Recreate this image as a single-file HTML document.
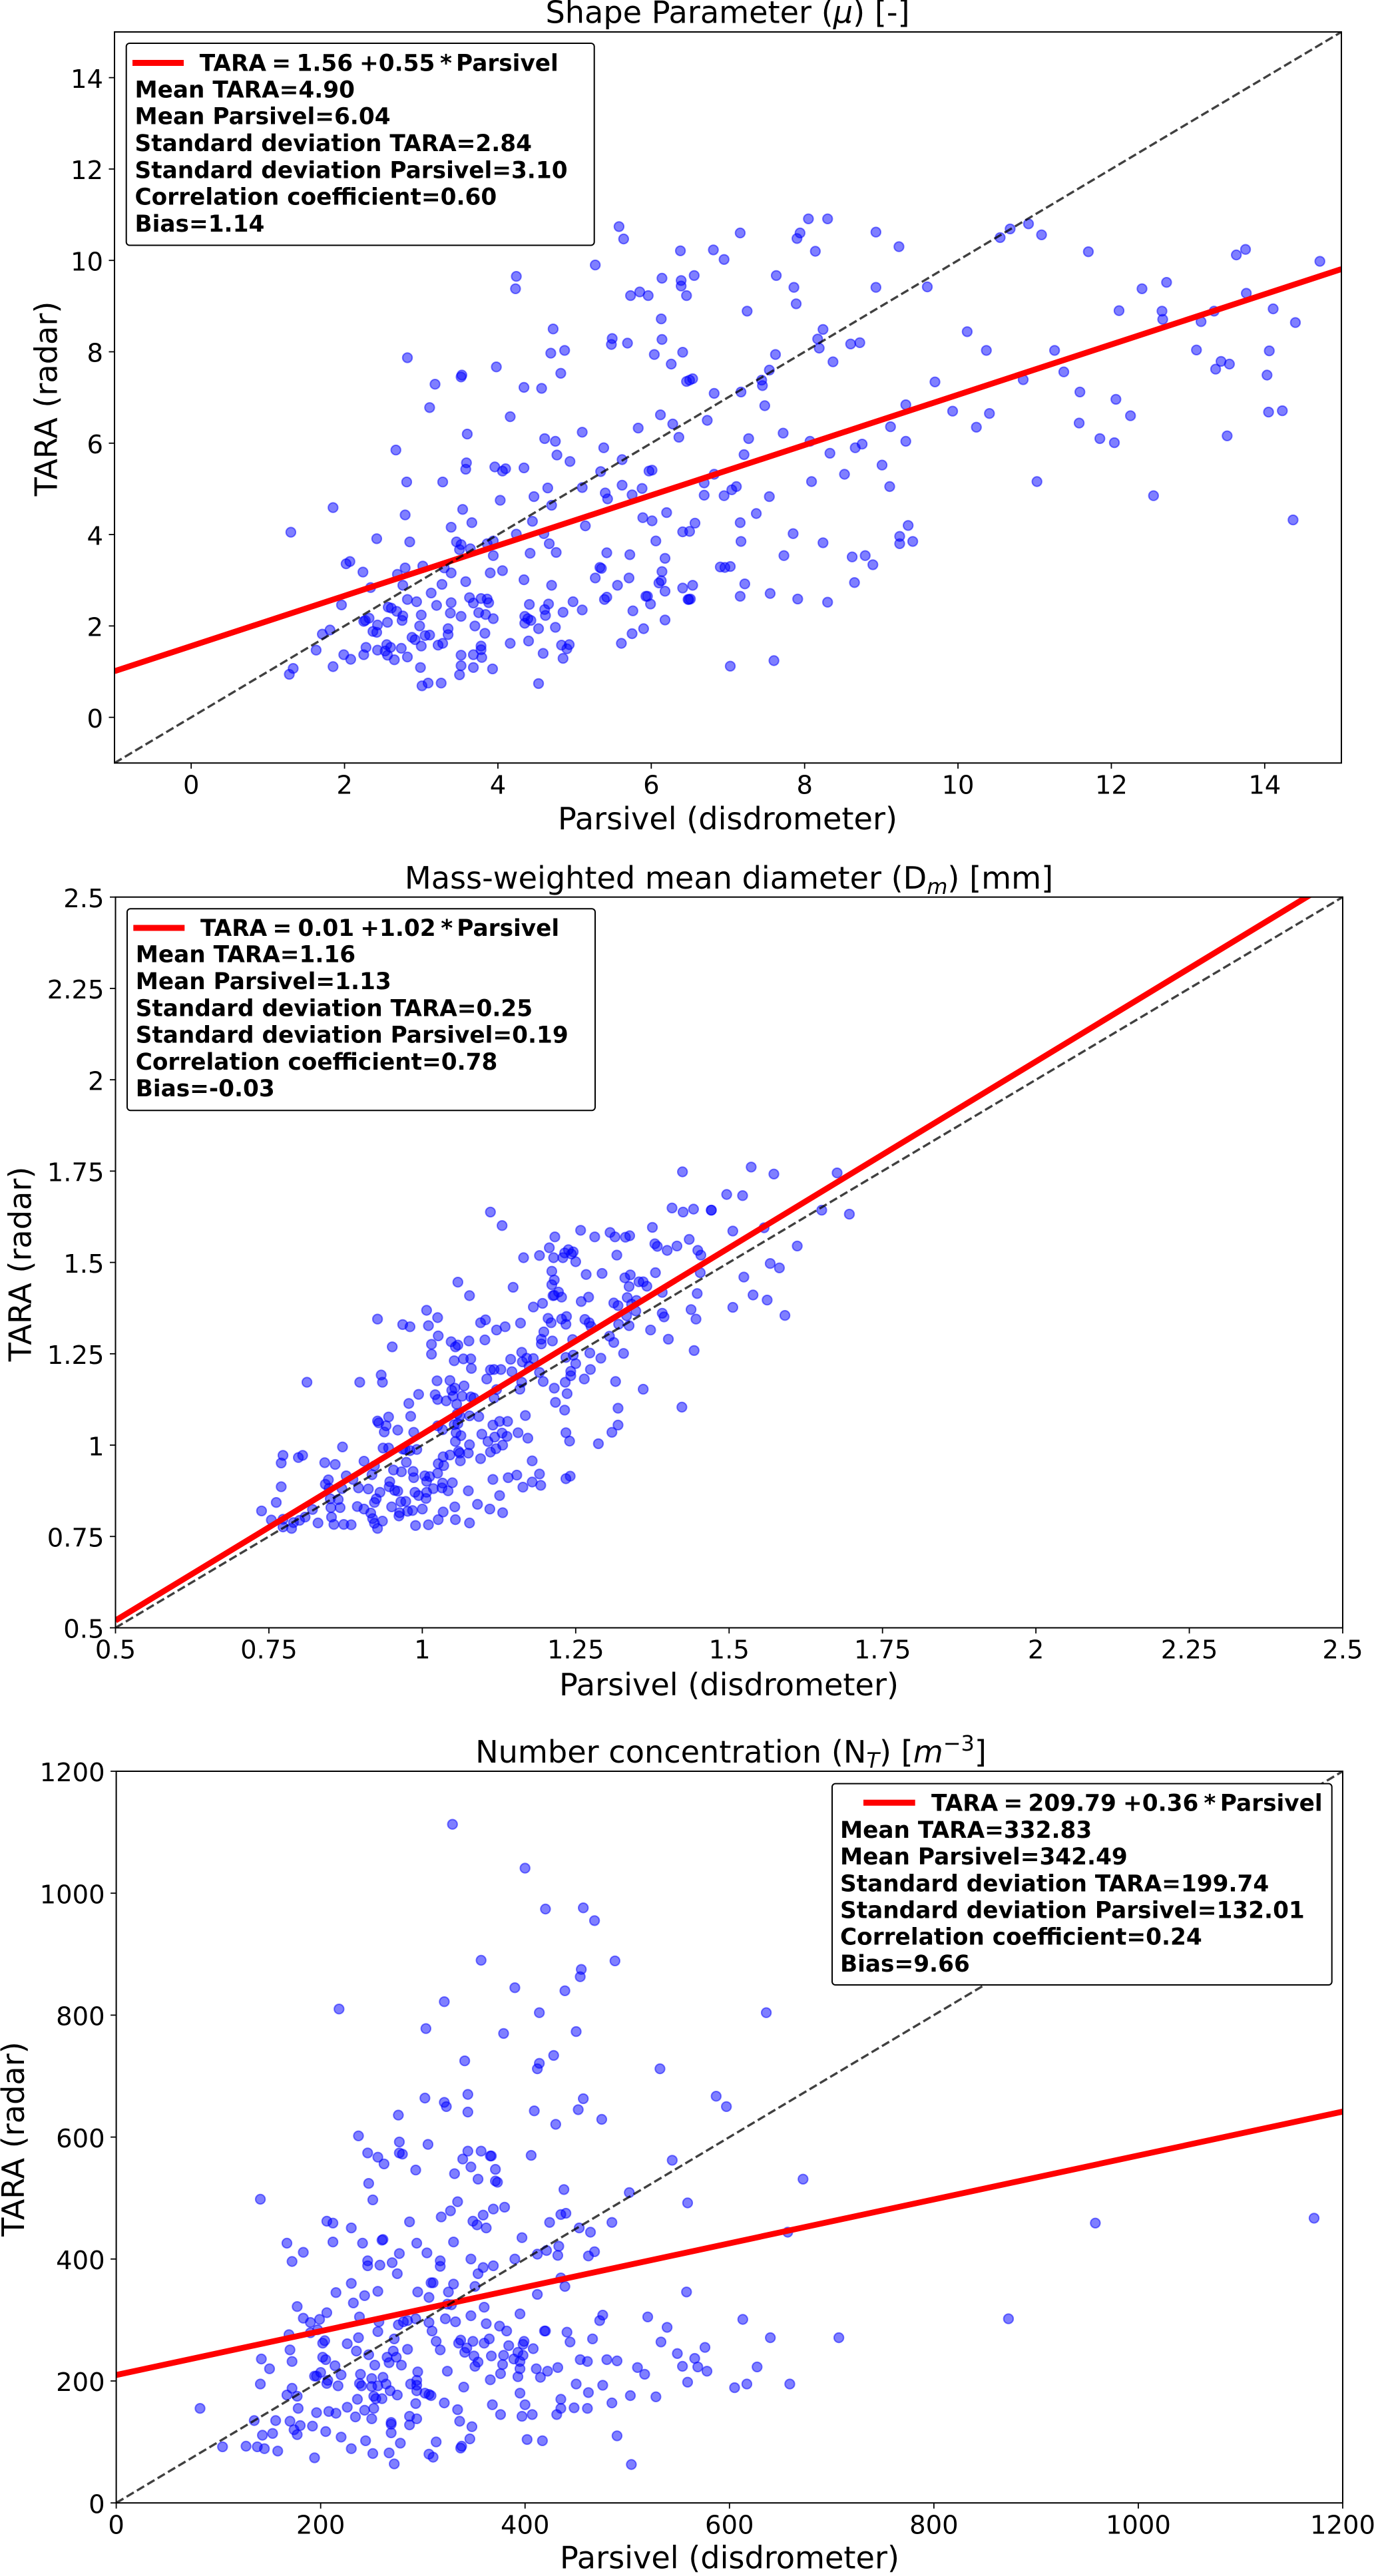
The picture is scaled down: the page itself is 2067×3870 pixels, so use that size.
<!DOCTYPE html>
<html lang="en">
<head>
<meta charset="utf-8">
<title>TARA radar vs Parsivel disdrometer scatter plots</title>
<style>
html,body{margin:0;padding:0;background:#fff;}
svg{display:block;font-family:"DejaVu Sans","Liberation Sans",sans-serif;}
.ttl{font-size:46.2px;text-anchor:middle;fill:#000;}
.lab{font-size:46.2px;text-anchor:middle;fill:#000;}
.leg{font-size:34.3px;font-weight:bold;fill:#000;}
.box{fill:#fff;stroke:#000;stroke-width:2;}
.tick{font-size:38.5px;fill:#000;}
</style>
</head>
<body>
<svg id="figure" xmlns="http://www.w3.org/2000/svg" width="2067" height="3870" viewBox="0 0 2067 3870">
<defs>
<clipPath id="clip-0"><rect x="172" y="48" width="1843" height="1098.3"/></clipPath>
<clipPath id="clip-1"><rect x="173.5" y="1347.7" width="1843.5" height="1097.8"/></clipPath>
<clipPath id="clip-2"><rect x="174.6" y="2661" width="1842.4" height="1099.2"/></clipPath>
</defs>
<rect width="2067" height="3870" fill="#fff"/>
<g id="plot-0"></g>
<g id="plot-1"></g>
<g id="plot-2"></g>

<text class="ttl" x="1093" y="34.5">Shape Parameter (<tspan font-style="italic">μ</tspan>) [-]</text>
<text class="lab" x="1093" y="1246">Parsivel (disdrometer)</text>
<text class="lab" transform="translate(85.6 599) rotate(-90)">TARA (radar)</text>
<g>
<rect class="box" x="189.7" y="65" width="703" height="303.5" rx="5"/>
<line x1="199" x2="276" y1="94.5" y2="94.5" stroke="#f00" stroke-width="9"/>
<text class="leg" y="106.4"><tspan x="299.7">TARA</tspan><tspan x="408.2">=</tspan><tspan x="445.5">1.56</tspan><tspan x="540">+0.55</tspan><tspan x="661">*</tspan><tspan x="685">Parsivel</tspan></text>
<text class="leg" x="202.5" y="146.4">Mean TARA=4.90</text>
<text class="leg" x="202.5" y="186.7">Mean Parsivel=6.04</text>
<text class="leg" x="202.5" y="227">Standard deviation TARA=2.84</text>
<text class="leg" x="202.5" y="267.3">Standard deviation Parsivel=3.10</text>
<text class="leg" x="202.5" y="307.6">Correlation coefficient=0.60</text>
<text class="leg" x="202.5" y="347.9">Bias=1.14</text>
</g>

<text class="ttl" x="1095" y="1335">Mass-weighted mean diameter (D<tspan dy="8" font-size="32" font-style="italic">m</tspan><tspan dy="-8">) [mm]</tspan></text>
<text class="lab" x="1095" y="2547">Parsivel (disdrometer)</text>
<text class="lab" transform="translate(46.7 1899) rotate(-90)">TARA (radar)</text>
<g>
<rect class="box" x="191" y="1365.3" width="703" height="303" rx="5"/>
<line x1="200.3" x2="277.3" y1="1394" y2="1394" stroke="#f00" stroke-width="9"/>
<text class="leg" y="1406"><tspan x="301">TARA</tspan><tspan x="409.5">=</tspan><tspan x="447.5">0.01</tspan><tspan x="541.3">+1.02</tspan><tspan x="662.3">*</tspan><tspan x="686.3">Parsivel</tspan></text>
<text class="leg" x="203.7" y="1445.7">Mean TARA=1.16</text>
<text class="leg" x="203.7" y="1486">Mean Parsivel=1.13</text>
<text class="leg" x="203.7" y="1526.3">Standard deviation TARA=0.25</text>
<text class="leg" x="203.7" y="1566.6">Standard deviation Parsivel=0.19</text>
<text class="leg" x="203.7" y="1606.9">Correlation coefficient=0.78</text>
<text class="leg" x="203.7" y="1647.2">Bias=-0.03</text>
</g>

<text class="ttl" x="1098" y="2647.8">Number concentration (N<tspan dy="8" font-size="32" font-style="italic">T</tspan><tspan dy="-8">) [</tspan><tspan font-style="italic">m</tspan><tspan dy="-18" font-size="32">−3</tspan><tspan dy="18">]</tspan></text>
<text class="lab" x="1096" y="3858.6">Parsivel (disdrometer)</text>
<text class="lab" transform="translate(36 3213.6) rotate(-90)">TARA (radar)</text>
<g>
<rect class="box" x="1250" y="2679.6" width="750.7" height="302.4" rx="5"/>
<line x1="1297" x2="1374.7" y1="2708.2" y2="2708.2" stroke="#f00" stroke-width="9"/>
<text class="leg" y="2720.6"><tspan x="1399">TARA</tspan><tspan x="1507.5">=</tspan><tspan x="1544.5">209.79</tspan><tspan x="1687">+0.36</tspan><tspan x="1808.4">*</tspan><tspan x="1832.8">Parsivel</tspan></text>
<text class="leg" x="1262" y="2760.9">Mean TARA=332.83</text>
<text class="leg" x="1262" y="2801.1">Mean Parsivel=342.49</text>
<text class="leg" x="1262" y="2841.3">Standard deviation TARA=199.74</text>
<text class="leg" x="1262" y="2881.5">Standard deviation Parsivel=132.01</text>
<text class="leg" x="1262" y="2921.7">Correlation coefficient=0.24</text>
<text class="leg" x="1262" y="2961.9">Bias=9.66</text>
</g>
</svg>
<script>
const shapeTicks=[0,2,4,6,8,10,12,14];
const shapeYTicks=[0,2,4,6,8,10,12,14];
const shapeDomain=[-1,15];
const shapeFit=[1.56,0.55];
const shapePoints=[[3.11,6.78],[4.16,6.58],[3.6,6.2],[6.12,6.62],[6.28,6.42],[5.83,6.33],[5.1,6.24],[6.36,6.13],[4.61,6.1],[4.75,6.04],[5.38,5.9],[2.67,5.85],[4.77,5.74],[5.62,5.64],[4.94,5.6],[3.59,5.57],[3.58,5.43],[3.96,5.48],[4.06,5.39],[4.1,5.44],[4.34,5.46],[5.34,5.38],[5.97,5.39],[6.01,5.41],[2.81,5.15],[3.28,5.15],[4.65,5.02],[5.1,5.03],[5.62,5.08],[5.88,5.01],[5.4,4.91],[5.43,4.78],[5.75,4.87],[4.47,4.83],[4.03,4.75],[1.85,4.59],[3.54,4.55],[4.7,4.64],[2.79,4.43],[6.2,4.48],[5.89,4.37],[6.01,4.3],[3.66,4.26],[4.45,4.29],[3.39,4.16],[5.14,4.19],[1.3,4.05],[6.41,4.06],[4.6,4.02],[4.24,4.01],[2.42,3.91],[2.85,3.84],[3.46,3.84],[3.52,3.78],[3.86,3.8],[3.94,3.86],[3.5,3.67],[3.64,3.69],[4.67,3.8],[6.06,3.86],[4.42,3.59],[4.76,3.61],[3.94,3.54],[5.42,3.6],[5.72,3.56],[6.18,3.48],[2.07,3.41],[2.02,3.36],[3.02,3.31],[2.79,3.27],[3.3,3.27],[4.06,3.21],[3.9,3.16],[3.39,3.16],[2.24,3.18],[2.69,3.13],[5.33,3.28],[5.35,3.26],[6.14,3.19],[4.34,3.01],[5.27,3.05],[5.71,3.05],[3.58,2.97],[6.13,2.99],[6.1,2.94],[2.34,2.84],[2.76,2.89],[3.27,2.91],[4.7,2.89],[5.56,2.89],[6.41,2.83],[3.13,2.72],[6.18,2.76],[5.95,2.65],[5.93,2.65],[5.42,2.63],[5.39,2.58],[3.63,2.62],[2.82,2.58],[2.94,2.53],[3.78,2.6],[3.86,2.59],[3.88,2.51],[3.68,2.5],[3.39,2.51],[4.41,2.47],[4.66,2.48],[4.98,2.53],[5.99,2.48],[6.48,2.58],[1.96,2.46],[3.2,2.45],[2.57,2.41],[2.61,2.39],[2.68,2.32],[4.61,2.36],[5.1,2.35],[5.76,2.33],[3,2.24],[3.38,2.28],[3.75,2.29],[3.84,2.25],[4.62,2.23],[4.85,2.3],[4.35,2.21],[2.76,2.22],[2.32,2.17],[3.52,2.21],[3.94,2.16],[2.27,2.12],[2.25,2.1],[4.39,2.16],[4.43,2.12],[6.18,2.13],[2.75,2.12],[2.56,2.08],[4.35,2.06],[2.43,2.02],[2.98,2],[3.7,2],[4.53,1.94],[4.75,1.97],[5.9,1.94],[3.35,1.94],[1.81,1.91],[2.37,1.88],[2.42,1.86],[1.71,1.82],[3.83,1.84],[3.35,1.81],[3.05,1.79],[3.11,1.8],[5.75,1.83],[2.88,1.75],[2.92,1.7],[4.16,1.62],[4.4,1.67],[5.61,1.62],[3.28,1.62],[3.22,1.58],[2.55,1.59],[3,1.56],[4.83,1.58],[4.93,1.59],[2.6,1.53],[2.28,1.53],[2.74,1.51],[3.78,1.56],[3.78,1.48],[4.9,1.5],[1.63,1.47],[2.43,1.47],[2.53,1.45],[2.56,1.36],[1.99,1.37],[2.25,1.37],[3.52,1.36],[3.68,1.37],[4.59,1.4],[2.82,1.32],[3.79,1.31],[4.85,1.29],[2.08,1.27],[2.65,1.26],[1.85,1.11],[3.52,1.13],[1.33,1.07],[2.99,1.09],[3.68,1.09],[3.93,1.06],[1.28,0.94],[3.5,0.93],[3.09,0.75],[3.26,0.75],[3.01,0.69],[4.53,0.74],
[7.48,6.82],[9.32,6.84],[6.73,6.5],[9.93,6.7],[10.41,6.65],[12.06,6.96],[12.25,6.6],[14.05,6.68],[14.23,6.71],[11.58,6.44],[9.12,6.36],[10.24,6.35],[13.51,6.16],[7.72,6.22],[7.27,6.1],[8.07,6.04],[9.32,6.04],[11.85,6.1],[12.04,6.01],[8.75,5.98],[8.66,5.9],[7.21,5.75],[8.33,5.78],[9.01,5.52],[6.82,5.32],[8.52,5.32],[6.69,5.13],[8.09,5.16],[11.03,5.16],[7.11,5.05],[7.05,4.98],[9.11,5.05],[6.69,4.86],[6.95,4.85],[7.54,4.83],[12.55,4.85],[7.37,4.46],[14.37,4.32],[6.57,4.25],[7.16,4.26],[9.35,4.2],[6.5,4.07],[7.85,4.02],[9.24,3.96],[7.17,3.85],[8.24,3.82],[9.24,3.8],[9.41,3.85],[7.73,3.54],[8.62,3.51],[8.79,3.54],[8.89,3.34],[6.9,3.29],[6.96,3.28],[7.03,3.3],[7.22,2.92],[8.65,2.95],[6.54,2.89],[7.16,2.65],[7.55,2.71],[7.91,2.59],[8.3,2.52],[6.51,2.59],[6.49,2.58],[7.6,1.24],[7.03,1.12],
[5.58,10.74],[5.64,10.47],[6.38,10.21],[5.27,9.9],[4.24,9.65],[4.23,9.38],[6.14,9.61],[6.39,9.56],[6.39,9.44],[5.73,9.23],[5.85,9.31],[5.96,9.23],[6.46,9.23],[6.13,8.72],[4.72,8.5],[5.49,8.29],[5.48,8.16],[5.69,8.19],[6.14,8.27],[4.69,7.97],[4.87,8.03],[6.04,7.94],[6.41,7.99],[2.82,7.87],[3.98,7.67],[3.53,7.49],[3.52,7.45],[4.82,7.53],[6.26,7.73],[3.18,7.29],[4.34,7.22],[4.57,7.2],[6.46,7.35],
[8.05,10.91],[8.3,10.91],[7.16,10.6],[7.94,10.6],[7.9,10.48],[8.93,10.62],[6.81,10.23],[6.95,10.02],[8.14,10.2],[9.23,10.3],[10.68,10.69],[10.92,10.8],[11.09,10.56],[10.55,10.5],[11.7,10.19],[13.75,10.24],[13.63,10.12],[14.72,9.98],[6.56,9.67],[7.63,9.67],[7.86,9.41],[8.93,9.41],[9.6,9.42],[7.89,9.05],[7.25,8.89],[12.72,9.52],[12.4,9.38],[13.76,9.28],[14.11,8.94],[12.1,8.9],[12.66,8.89],[12.67,8.71],[13.34,8.89],[13.17,8.66],[14.4,8.64],[8.24,8.49],[8.17,8.28],[8.19,8.08],[8.6,8.17],[8.72,8.2],[10.12,8.44],[7.62,7.94],[8.37,7.78],[10.37,8.03],[11.26,8.03],[13.11,8.04],[14.06,8.02],[7.54,7.6],[11.38,7.56],[13.43,7.79],[13.54,7.73],[13.36,7.62],[6.54,7.41],[6.5,7.38],[7.44,7.38],[7.45,7.26],[10.85,7.39],[14.03,7.49],[9.7,7.34],[6.82,7.09],[7.17,7.12],[11.59,7.12]];

const diameterTicks=[0.5,0.75,1,1.25,1.5,1.75,2,2.25,2.5];
const diameterYTicks=[0.5,0.75,1,1.25,1.5,1.75,2,2.25,2.5];
const diameterDomain=[0.5,2.5];
const diameterFit=[0.01,1.02];
const diameterPoints=[[1.424,1.748],[1.496,1.686],[1.111,1.638],[1.407,1.649],[1.425,1.638],[1.442,1.646],[1.471,1.643],[1.13,1.601],[1.258,1.588],[1.216,1.57],[1.281,1.57],[1.306,1.582],[1.314,1.57],[1.331,1.569],[1.338,1.573],[1.375,1.596],[1.435,1.563],[1.207,1.54],[1.379,1.551],[1.383,1.544],[1.399,1.533],[1.415,1.545],[1.449,1.533],[1.454,1.52],[1.238,1.535],[1.232,1.526],[1.246,1.529],[1.243,1.523],[1.229,1.513],[1.214,1.513],[1.191,1.519],[1.165,1.513],[1.25,1.502],[1.317,1.52],[1.211,1.476],[1.267,1.467],[1.293,1.47],[1.38,1.472],[1.453,1.472],[1.339,1.466],[1.33,1.458],[1.353,1.447],[1.36,1.447],[1.366,1.435],[1.337,1.434],[1.058,1.446],[1.215,1.452],[1.211,1.439],[1.148,1.432],[1.222,1.419],[1.215,1.41],[1.213,1.409],[1.227,1.405],[1.077,1.409],[1.271,1.405],[1.334,1.404],[1.391,1.418],[1.448,1.415],[1.259,1.393],[1.312,1.389],[1.319,1.382],[1.349,1.396],[1.341,1.386],[1.196,1.388],[1.181,1.378],[1.348,1.367],[1.333,1.354],[1.007,1.369],[1.438,1.371],[1.391,1.361],[1.394,1.351],[1.446,1.345],[0.927,1.345],[1.025,1.349],[0.968,1.33],[0.98,1.324],[1.01,1.327],[1.095,1.335],[1.103,1.343],[1.16,1.334],[1.205,1.347],[1.21,1.335],[1.227,1.345],[1.235,1.352],[1.234,1.331],[1.265,1.344],[1.272,1.335],[1.275,1.325],[1.32,1.331],[1.337,1.327],[1.121,1.315],[1.135,1.324],[1.198,1.31],[1.372,1.315],[1.026,1.299],[1.194,1.29],[1.194,1.277],[1.212,1.285],[1.245,1.289],[1.305,1.298],[1.312,1.281],[1.401,1.29],[1.102,1.288],[1.076,1.285],[1.047,1.283],[1.058,1.274],[1.054,1.269],[1.015,1.276],[0.951,1.269],[1.015,1.249],[1.162,1.254],[1.273,1.252],[1.328,1.251],[1.443,1.259],[1.246,1.246],[1.234,1.24],[1.291,1.238],[1.067,1.236],[1.079,1.236],[1.052,1.231],[1.144,1.235],[1.17,1.238],[1.181,1.237],[1.163,1.228],[1.25,1.223],[1.174,1.216],[1.08,1.21],[1.111,1.206],[1.117,1.207],[1.128,1.207],[1.146,1.201],[1.274,1.207],[1.242,1.202],[1.191,1.199],[0.933,1.192],[1.242,1.19],[1.233,1.172],[1.264,1.181],[1.105,1.181],[0.898,1.172],[0.935,1.172],[0.812,1.172],[1.024,1.176],[1.045,1.177],[1.197,1.174],[1.315,1.174],[1.162,1.172],[1.068,1.162],[1.053,1.156],[1.048,1.15],[1.215,1.156],[1.121,1.152],[1.159,1.153],[1.36,1.153],[0.994,1.139],[1.021,1.138],[1.236,1.141],[1.079,1.132],[1.084,1.129],[1.065,1.134],[1.05,1.134],[1.025,1.125],[1.039,1.121],[1.117,1.129],[1.056,1.112],[0.978,1.114],[1.217,1.117],[1.423,1.104],[1.319,1.101],[1.232,1.096],[0.981,1.079],[0.945,1.077],[0.927,1.066],[0.929,1.061],[1.057,1.086],[1.077,1.08],[1.061,1.08],[1.092,1.078],[1.168,1.081],[1.126,1.065],[1.139,1.065],[1.115,1.055],[1.058,1.059],[1.052,1.056],[0.941,1.053],[1.025,1.053],[1.319,1.055],[0.96,1.041],[1.033,1.042],[0.938,1.036],[0.986,1.035],[1.055,1.034],[1.063,1.026],[1.097,1.03],[1.13,1.033],[1.138,1.024],[1.156,1.034],[1.172,1.019],[1.118,1.022],[1.234,1.034],[1.309,1.035],[1.054,1.01],[1.107,1.01],[1.24,1.011],[1.131,1],[1.287,1.004],[0.87,0.995],[0.936,0.992],[0.945,0.992],[1.077,1.001],[1.12,0.99],[0.968,0.989],[0.972,0.988],[0.98,0.985],[0.991,0.988],[1.059,0.983],[1.061,0.978],[1.075,0.978],[1.111,0.981],[0.773,0.972],[0.798,0.966],[0.805,0.972],[0.77,0.951],[0.841,0.952],[0.858,0.947],[0.905,0.956],[1.034,0.968],[1.045,0.973],[1.095,0.963],[1.179,0.957],[0.974,0.953],[1.062,0.957],[1.026,0.949],[1.035,0.944],[0.922,0.943],[0.953,0.932],[0.966,0.927],[0.985,0.928],[0.918,0.919],[0.876,0.916],[0.887,0.906],[1.025,0.923],[1.004,0.916],[1.012,0.914],[0.986,0.911],[1.154,0.918],[1.14,0.911],[1.191,0.921],[1.115,0.906],[1.241,0.915],[1.234,0.908],[0.847,0.905],[0.842,0.893],[0.947,0.9],[0.946,0.886],[1.007,0.901],[1.033,0.896],[1.049,0.897],[1.179,0.899],[1.164,0.885],[1.193,0.89],[0.77,0.886],[0.848,0.882],[0.896,0.883],[0.912,0.88],[0.869,0.881],[0.955,0.876],[0.96,0.874],[1.018,0.881],[1.032,0.883],[1.042,0.875],[1.075,0.875],[0.988,0.871],[1.007,0.871],[0.931,0.871],[1.126,0.862],[0.994,0.862],[1.006,0.854],[0.925,0.853],[0.85,0.853],[0.863,0.851],[0.762,0.843],[0.965,0.845],[0.973,0.846],[0.922,0.843],[1.09,0.838],[0.894,0.832],[0.851,0.829],[0.866,0.829],[0.905,0.825],[0.95,0.831],[1,0.825],[1.053,0.831],[0.738,0.82],[0.984,0.821],[0.976,0.819],[1.11,0.825],[1.034,0.817],[1.131,0.815],[0.916,0.814],[0.963,0.815],[0.962,0.806],[0.852,0.803],[0.919,0.799],[0.754,0.795],[0.773,0.797],[0.935,0.792],[1.026,0.796],[1.054,0.796],[0.809,0.803],[0.821,0.824],[0.8,0.794],[0.79,0.788],[0.83,0.787],[0.856,0.783],[0.872,0.783],[0.884,0.782],[0.922,0.786],[1.077,0.787],[0.989,0.78],[1.01,0.782],[0.787,0.772],[0.773,0.776],[0.927,0.772],
[1.536,1.761],[1.573,1.742],[1.676,1.745],[1.522,1.683],[1.471,1.643],[1.651,1.643],[1.696,1.632],[1.506,1.586],[1.557,1.595],[1.611,1.545],[1.567,1.497],[1.582,1.485],[1.524,1.46],[1.539,1.411],[1.562,1.397],[1.506,1.377],[1.591,1.355]];

const concentrationTicks=[0,200,400,600,800,1000,1200];
const concentrationYTicks=[0,200,400,600,800,1000,1200];
const concentrationDomain=[0,1200];
const concentrationFit=[209.79,0.36];
const concentrationPoints=[[141,498],[246,574],[256,567],[262,556],[277,574],[280,572],[293,546],[331,540],[339,564],[344,577],[357,577],[347,551],[366,569],[367,569],[371,547],[354,531],[371,528],[373,526],[406,570],[544,562],[247,524],[251,497],[334,494],[502,509],[438,514],[559,492],[206,462],[212,459],[327,479],[318,469],[359,472],[369,482],[380,485],[435,473],[440,475],[230,451],[287,461],[349,462],[353,456],[362,451],[424,460],[453,451],[485,460],[464,444],[167,426],[212,428],[241,426],[261,432],[260,431],[294,426],[330,428],[397,435],[433,421],[183,411],[172,396],[277,409],[304,410],[421,414],[412,408],[468,412],[462,405],[432,406],[390,400],[347,400],[317,397],[317,388],[270,394],[246,397],[246,389],[258,390],[359,386],[369,389],[275,376],[354,376],[230,360],[308,361],[310,361],[330,359],[435,369],[439,355],[351,355],[215,345],[256,347],[295,346],[325,346],[412,342],[558,346],[243,340],[306,337],[232,328],[324,326],[328,325],[177,322],[360,321],[206,312],[395,310],[476,308],[520,305],[183,303],[238,305],[199,301],[322,302],[347,307],[190,296],[257,297],[276,292],[281,297],[285,299],[293,302],[306,296],[332,297],[473,299],[362,294],[375,290],[539,288],[197,284],[190,279],[169,276],[256,281],[309,282],[382,282],[420,282],[419,282],[441,280],[272,269],[237,271],[365,269],[466,269],[204,266],[202,262],[226,261],[337,267],[349,265],[313,265],[335,262],[360,262],[399,265],[398,260],[444,264],[533,264],[384,258],[343,254],[170,251],[235,249],[285,252],[317,251],[271,249],[341,247],[408,253],[393,247],[549,245],[379,242],[367,241],[247,243],[398,242],[389,236],[350,241],[265,239],[274,239],[395,232],[142,236],[202,239],[205,235],[172,232],[354,231],[267,230],[454,235],[461,232],[480,235],[490,233],[378,227],[214,225],[253,226],[279,226],[351,224],[150,220],[395,220],[411,220],[432,222],[510,222],[554,224],[295,215],[324,216],[422,216],[517,211],[200,214],[220,210],[196,208],[194,208],[239,211],[261,206],[250,204],[376,212],[393,207],[415,206],[294,201],[366,202],[207,201],[206,196],[141,195],[238,196],[240,192],[250,191],[256,192],[264,195],[288,195],[294,193],[217,192],[450,195],[476,193],[559,198],[172,188],[340,190],[268,184],[294,184],[302,180],[306,178],[308,176],[395,180],[462,181],[167,177],[177,175],[252,175],[275,177],[254,171],[260,171],[503,176],[528,174],[236,170],[435,170],[321,164],[293,163],[368,161],[400,161],[485,164],[178,155],[252,155],[82,155],[226,157],[334,153],[435,155],[448,156],[461,155],[243,152],[208,150],[196,148],[215,147],[376,145],[407,145],[431,145],[397,142],[287,142],[234,141],[250,138],[294,138],[135,135],[156,135],[170,134],[336,134],[269,132],[269,129],[180,127],[192,126],[287,128],[348,125],[174,120],[205,117],[269,115],[177,112],[153,114],[143,111],[220,108],[490,110],[346,105],[244,102],[402,104],[417,102],[313,100],[278,98],[338,93],[337,90],[104,92],[127,93],[138,92],[145,89],[230,89],[158,85],[251,81],[267,82],[306,80],[310,75],[194,74],[272,64],[504,63],
[329,1113],[400,1041],[420,974],[457,976],[468,955],[357,890],[488,889],[455,875],[454,863],[390,845],[439,840],[218,810],[321,822],[414,804],[303,778],[379,770],[450,773],[428,734],[341,725],[414,721],[412,712],[532,712],[302,664],[344,670],[321,657],[323,650],[457,663],[344,641],[409,643],[452,645],[276,636],[475,629],[430,621],[237,602],[277,592],[305,588],
[636,804],[587,667],[597,650],[672,531],[657,444],[958,459],[1172,467],[613,301],[873,302],[640,271],[707,271],[576,255],[566,237],[569,223],[627,223],[578,216],[605,189],[617,195],[659,195]];

const svgNS='http://www.w3.org/2000/svg';
function make(tag,attrs,parent,text){
  const node=document.createElementNS(svgNS,tag);
  for(const k in attrs){node.setAttribute(k,attrs[k]);}
  if(text!==undefined){node.textContent=text;}
  parent.appendChild(node);
  return node;
}
function drawPanel(index,prefix,box,domain,points,fit,xTicks,yTicks){
  const root=document.getElementById('plot-'+index);
  const sx=v=>box.left+(v-domain[0])/(domain[1]-domain[0])*(box.right-box.left);
  const sy=v=>box.bottom-(v-domain[0])/(domain[1]-domain[0])*(box.bottom-box.top);
  const clipped=make('g',{'clip-path':'url(#clip-'+index+')'},root);
  
  
  points.forEach(function(p){
    const dot=make('circle',{cx:sx(p[0]).toFixed(1),cy:sy(p[1]).toFixed(1),r:7.2,fill:'#00f','fill-opacity':0.5,stroke:'#00f','stroke-opacity':0.5,'stroke-width':2},clipped);
    
    
  });
  const fitLine=make('line',{x1:sx(domain[0]),y1:sy(fit[0]+fit[1]*domain[0]),x2:sx(domain[1]),y2:sy(fit[0]+fit[1]*domain[1]),stroke:'#f00','stroke-width':8.8},clipped);
  
  
  const identity=make('line',{x1:sx(domain[0]),y1:sy(domain[0]),x2:sx(domain[1]),y2:sy(domain[1]),stroke:'#000','stroke-opacity':0.75,'stroke-width':3.4,'stroke-dasharray':'12.6 5.5'},clipped);
  
  
  const frame=make('rect',{x:box.left,y:box.top,width:box.right-box.left,height:box.bottom-box.top,fill:'none',stroke:'#000','stroke-width':2},root);
  
  
  xTicks.forEach(function(t){
    const mark=make('line',{x1:sx(t),x2:sx(t),y1:box.bottom,y2:box.bottom+8.5,stroke:'#000','stroke-width':1.8},root);
    
    
    const label=make('text',{class:'tick',x:sx(t),y:box.bottom+46.2,'text-anchor':'middle'},root,String(t));
    
    
  });
  yTicks.forEach(function(t){
    const mark=make('line',{x1:box.left-8.5,x2:box.left,y1:sy(t),y2:sy(t),stroke:'#000','stroke-width':1.8},root);
    
    
    const label=make('text',{class:'tick',x:box.left-17,y:sy(t)+15.2,'text-anchor':'end'},root,String(t));
    
    
  });
}
drawPanel(0,'shape',{left:172,right:2015,top:48,bottom:1146.3},shapeDomain,shapePoints,shapeFit,shapeTicks,shapeYTicks);
drawPanel(1,'diameter',{left:173.5,right:2017,top:1347.7,bottom:2445.5},diameterDomain,diameterPoints,diameterFit,diameterTicks,diameterYTicks);
drawPanel(2,'concentration',{left:174.6,right:2017,top:2661,bottom:3760.2},concentrationDomain,concentrationPoints,concentrationFit,concentrationTicks,concentrationYTicks);
</script>
</body>
</html>
